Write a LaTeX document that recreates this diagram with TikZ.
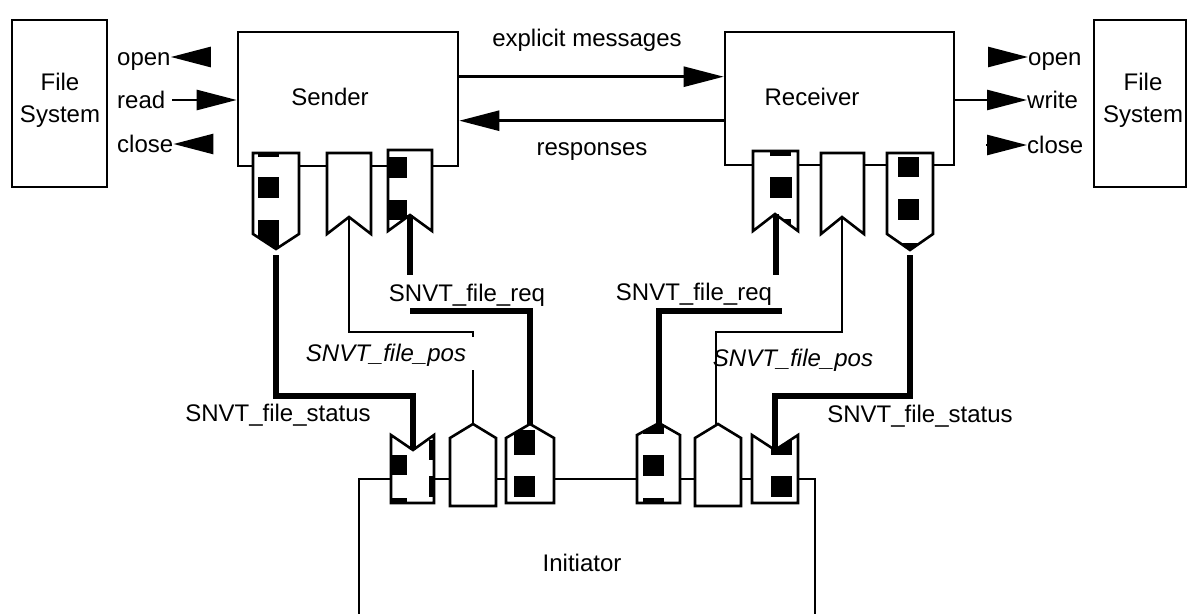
\documentclass[tikz,border=0pt]{standalone}
\usepackage{fontspec}
\setmainfont{Liberation Sans}
\usetikzlibrary{arrows.meta,calc}
\tikzset{
  boxline/.style={draw=black,line width=2.6pt,fill=white,inner sep=0pt},
  portline/.style={draw=black,line width=2.6pt,line join=miter},
  thinc/.style={draw=black,line width=2.6pt},
  thickc/.style={draw=black,line width=5.5pt},
  lbl/.style={inner sep=0pt,text height=17pt,text depth=0pt},
  farrow/.style={draw=black,line width=2.6pt,-{Triangle[length=40pt,width=20pt]}},
}
\newcommand{\myport}[2]{%
  \fill[white] #1;
  \begin{scope}\clip #1; #2\end{scope}
  \draw[portline] #1;}
\begin{document}
\begin{tikzpicture}[x=1pt,y=-1pt,every node/.style={font=\fontsize{24}{32}\selectfont}]
\useasboundingbox (0,0) rectangle (1188,613);
\clip (0,0) rectangle (1188,613);

% main boxes
\node[boxline,minimum width=95pt,minimum height=167pt] (fsl) at (59.5,103.5) {};
\node[align=center,inner sep=0pt] (fsltext) at (60,100) {File\\System};
\node[boxline,minimum width=92pt,minimum height=167pt] (fsr) at (1140,103.5) {};
\node[align=center,inner sep=0pt] (fsrtext) at (1143,100) {File\\System};
\node[boxline,minimum width=220pt,minimum height=134pt] (sender) at (348,99) {};
\node[lbl] (sendert) at (330,97) {Sender};
\node[boxline,minimum width=229pt,minimum height=133pt] (receiver) at (839.5,98.5) {};
\node[lbl] (receivert) at (812,97) {Receiver};
\node[boxline,minimum width=456pt,minimum height=221pt] (init) at (587,589.5) {};
\node[lbl] (initt) at (582,563) {Initiator};

% left file-system labels and arrows
\node[lbl,anchor=west] (lopen) at (117,57) {open};
\node[lbl,anchor=west] (lread) at (117,100) {read};
\node[lbl,anchor=west] (lclose) at (117,144) {close};
\coordinate (oa) at (210,57);
\coordinate (ca) at (210,144);
\draw[farrow] (oa) -- (lopen.east);
\draw[farrow] (ca) -- (lclose.east);
\draw[farrow] ($(lread.east)+(7,0)$) -- (sender.west |- lread.east);

% right file-system labels and arrows
\node[lbl,anchor=west] (ropen) at (1028,57) {open};
\node[lbl,anchor=west] (rwrite) at (1027,100) {write};
\node[lbl,anchor=west] (rclose) at (1027,145) {close};
\coordinate (roa) at (988,57);
\coordinate (rca) at (986,145);
\draw[farrow] (roa) -- (ropen.west);
\draw[farrow] (rca) -- (rclose.west);
\draw[farrow] (receiver.east |- rwrite.west) -- (rwrite.west);

% explicit messages / responses
\draw[farrow] ($(sender.north east)+(0,46)$) -- ($(receiver.north west)+(0,46)$);
\draw[farrow] ($(receiver.north west)+(0,90)$) -- ($(sender.north east)+(0,90)$);
\node[lbl] (em) at (587,38) {explicit messages};
\node[lbl] (resp) at (592,147) {responses};

% sender ports
\myport{(253,153) -- (299,153) -- (299,234) -- (276,249) -- (253,234) -- cycle}
  {\fill (258,153) rectangle (279,157); \fill (258,177) rectangle (279,198); \fill (258,220) rectangle (279,255);}
\myport{(327,153) -- (371,153) -- (371,234) -- (349,217) -- (327,234) -- cycle}{}
\myport{(388,150) -- (432,150) -- (432,231) -- (410,215) -- (388,231) -- cycle}
  {\fill (388,157) rectangle (407,178); \fill (388,200) rectangle (407,220);}
% receiver ports
\myport{(753,151) -- (798,151) -- (798,231) -- (775,214) -- (753,231) -- cycle}
  {\fill (770,151) rectangle (791,156); \fill (770,177) rectangle (792,198); \fill (777,219) rectangle (791,232);}
\myport{(821,153) -- (864,153) -- (864,234) -- (842,217) -- (821,234) -- cycle}{}
\myport{(887,153) -- (933,153) -- (933,234) -- (910,250) -- (887,234) -- cycle}
  {\fill (898,157) rectangle (919,177); \fill (898,199) rectangle (919,220); \fill (900,243) rectangle (920,252);}
% initiator ports
\myport{(391,503) -- (434,503) -- (434,435) -- (413,450) -- (391,435) -- cycle}
  {\fill (391,455) rectangle (407,475); \fill (391,498) rectangle (407,503); \fill (429,476) rectangle (434,497); \fill (429,440) rectangle (434,460);}
\myport{(450,506) -- (496,506) -- (496,438) -- (473,424) -- (450,438) -- cycle}{}
\myport{(506,503) -- (554,503) -- (554,438) -- (530,424) -- (506,438) -- cycle}
  {\fill (514,430) rectangle (535,455); \fill (514,476) rectangle (535,497);}
\myport{(637,503) -- (680,503) -- (680,435) -- (659,423) -- (637,435) -- cycle}
  {\fill (643,415) rectangle (664,434); \fill (643,455) rectangle (664,476); \fill (643,498) rectangle (664,503);}
\myport{(695,506) -- (741,506) -- (741,438) -- (718,424) -- (695,438) -- cycle}{}
\myport{(752,503) -- (798,503) -- (798,435) -- (775,450) -- (752,435) -- cycle}
  {\fill (771,430) rectangle (792,455); \fill (771,476) rectangle (792,497);}

% connection points
\coordinate (sp1) at (276,255);
\coordinate (sp2) at (349,217);
\coordinate (sp3) at (410,215);
\coordinate (rpA) at (776,214);
\coordinate (rpB) at (842,217);
\coordinate (rpC) at (910,255);
\coordinate (ip1) at (413,450);
\coordinate (ip2) at (473,424);
\coordinate (ip3) at (530,424);
\coordinate (ip4) at (659,423);
\coordinate (ip5) at (716,424);
\coordinate (ip6) at (775,450);

% connectors
\draw[thickc] (sp1) -- ++(0,141) -| (ip1);
\draw[thinc] (sp2) |- ($(ip2)+(0,-92)$) -- ++(0,5);
\draw[thinc] ($(ip2)+(0,-54)$) -- (ip2);
\draw[thickc] (sp3) -- ++(0,60);
\draw[thickc] ($(sp3)+(0,96)$) -| (ip3);
\draw[thickc] (rpA) -- ++(0,61);
\draw[thickc] ($(rpA)+(6,97)$) -| (ip4);
\draw[thinc] (rpB) -- ++(0,115) -| (ip5);
\draw[thickc] (rpC) -- ++(0,141) -| (ip6);

% network variable labels
\node[lbl] (stl) at (278,413) {SNVT\_file\_status};
\node[lbl,font=\fontsize{24}{32}\selectfont\itshape] (spl) at (386,353) {SNVT\_file\_pos};
\node[lbl] (sql) at (467,293) {SNVT\_file\_req};
\node[lbl] (sqr) at (694,292) {SNVT\_file\_req};
\node[lbl,font=\fontsize{24}{32}\selectfont\itshape] (spr) at (793,358) {SNVT\_file\_pos};
\node[lbl] (str) at (920,414) {SNVT\_file\_status};
\end{tikzpicture}
\end{document}
